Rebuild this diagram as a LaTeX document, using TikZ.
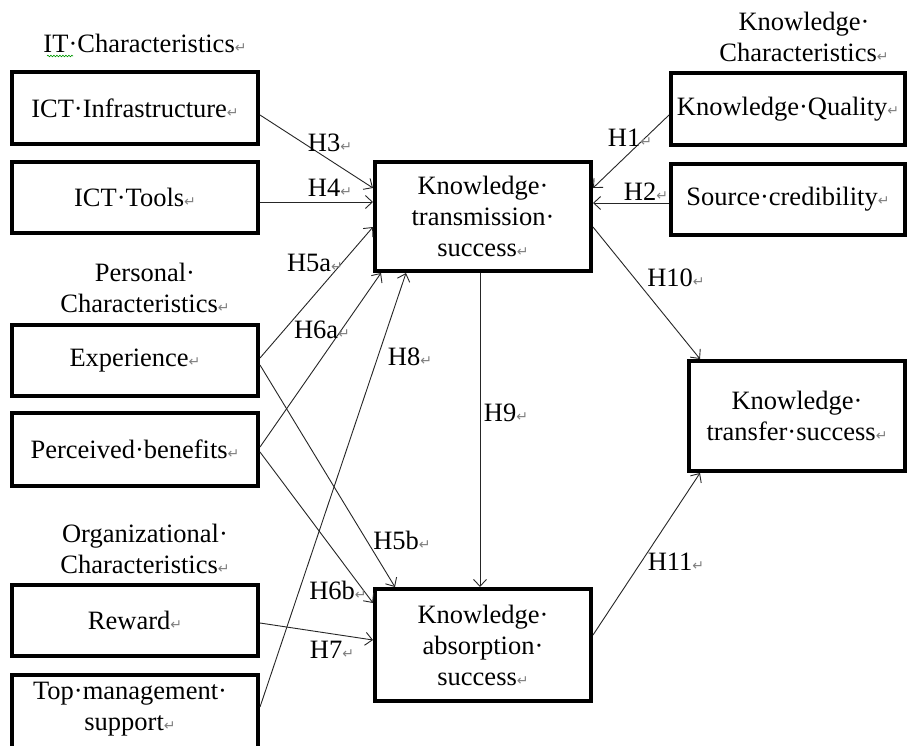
\documentclass[tikz,border=0pt]{standalone}
\usepackage{fontspec}
\setmainfont{Liberation Serif}
\newfontfamily\markfont{DejaVu Sans}
\usetikzlibrary{arrows.meta,calc,decorations.pathmorphing}
\newcommand{\pmk}{{\color{gray}\markfont\fontsize{14}{14}\selectfont ↵}}
\begin{document}
\begin{tikzpicture}[x=1pt,y=-1pt,font=\fontsize{26.5}{31}\selectfont,
  box/.style={draw, line width=4pt, inner sep=0pt, align=center},
  lbl/.style={inner sep=0pt, align=center},
  arr/.style={-{Straight Barb[length=7pt,width=13pt]}, line width=0.9pt, draw=black!85}]
\clip (0,0) rectangle (907,745);
\fill[white] (0,0) rectangle (907,745);
% group titles
\node[lbl] (itc) at (145,43) {IT·Characteristics\pmk};
\draw[green!60!black, line width=0.6pt, decorate, decoration={snake, segment length=3pt, amplitude=0.8pt}] (47,56) -- (73,56);
\node[lbl] (pc) at (145,288) {Personal·\\Characteristics\pmk};
\node[lbl] (oc) at (145,549) {Organizational·\\Characteristics\pmk};
\node[lbl] (kc) at (804,37) {Knowledge·\\Characteristics\pmk};
% boxes
\node[box, minimum width=246pt, minimum height=72pt] (infra) at (135,108) {ICT·Infrastructure\pmk};
\node[box, minimum width=246pt, minimum height=71pt] (tools) at (135,197.5) {ICT·Tools\pmk};
\node[box, minimum width=246pt, minimum height=71pt] (exp) at (135,360.5) {Experience\pmk};
\node[box, minimum width=246pt, minimum height=73pt] (ben) at (135,449.5) {Perceived·benefits\pmk};
\node[box, minimum width=246pt, minimum height=71pt] (rew) at (135,620.5) {Reward\pmk};
\node[box, minimum width=246pt, minimum height=80pt, anchor=north] (top) at (135,673) {};
\node[lbl] (toptext) at (130,709) {Top·management·\\support\pmk};
\node[box, minimum width=216pt, minimum height=109pt] (trans) at (483,216.5) {Knowledge·\\transmission·\\success\pmk};
\node[box, minimum width=216pt, minimum height=112pt] (abs) at (483,645) {Knowledge·\\absorption·\\success\pmk};
\node[box, minimum width=234pt, minimum height=72pt] (qual) at (788,109) {Knowledge·Quality\pmk};
\node[box, minimum width=234pt, minimum height=71pt] (cred) at (788,199.5) {Source·credibility\pmk};
\node[box, minimum width=216pt, minimum height=110pt] (transf) at (797,416) {Knowledge·\\transfer·success\pmk};
% connectors
\draw[arr] ([yshift=-7pt]infra.east) -- ([yshift=28.5pt]trans.west);
\draw[arr] ([yshift=-4.5pt]tools.east) -- ([yshift=14.5pt]trans.west);
\draw[arr] ([yshift=2.5pt]exp.east) -- ([yshift=-10.5pt]trans.west);
\draw[arr] ([yshift=2.5pt]ben.east) -- ([xshift=8pt]trans.south west);
\draw[arr] ([yshift=8pt]top.east) -- ([xshift=33pt]trans.south west);
\draw[arr] ([yshift=-4.5pt]exp.east) -- ([xshift=22pt]abs.north west);
\draw[arr] ([yshift=-2.5pt]ben.east) -- ([yshift=42pt]abs.west);
\draw[arr] ([yshift=-2.5pt]rew.east) -- ([yshift=5pt]abs.west);
\draw[arr] ([xshift=-3pt]trans.south) -- ([xshift=-3pt]abs.north);
\draw[arr] ([yshift=-6pt]qual.west) -- ([yshift=28.5pt]trans.east);
\draw[arr] ([yshift=-3.5pt]cred.west) -- ([yshift=13.5pt]trans.east);
\draw[arr] ([yshift=-10.5pt]trans.east) -- ([xshift=13pt]transf.north west);
\draw[arr] ([yshift=10pt]abs.east) -- ([xshift=13pt]transf.south west);
% hypothesis labels
\node[lbl] (h1) at (630,138) {H1\pmk};
\node[lbl] (h2) at (646,192) {H2\pmk};
\node[lbl] (h3) at (330,143) {H3\pmk};
\node[lbl] (h4) at (330,188) {H4\pmk};
\node[lbl] (h5a) at (315,263) {H5a\pmk};
\node[lbl] (h6a) at (322,330) {H6a\pmk};
\node[lbl] (h8) at (410,357) {H8\pmk};
\node[lbl] (h5b) at (402,540) {H5b\pmk};
\node[lbl] (h6b) at (338,590) {H6b\pmk};
\node[lbl] (h7) at (332,650) {H7\pmk};
\node[lbl] (h9) at (506,413) {H9\pmk};
\node[lbl] (h10) at (676,278) {H10\pmk};
\node[lbl] (h11) at (676,562) {H11\pmk};
\end{tikzpicture}
\end{document}
